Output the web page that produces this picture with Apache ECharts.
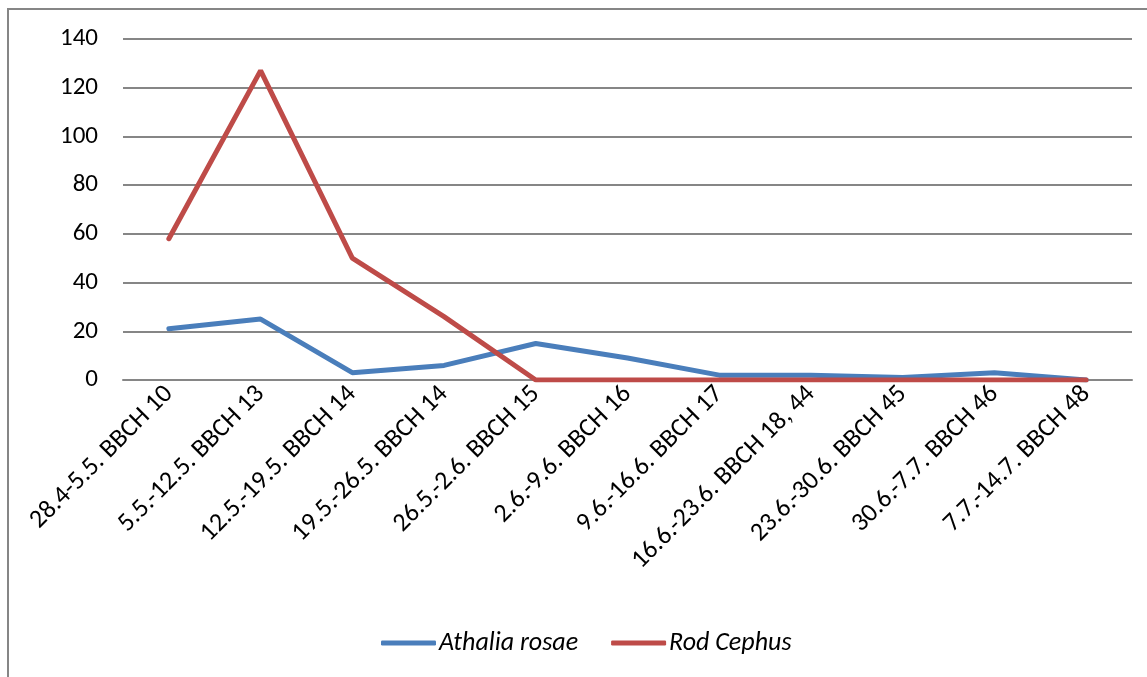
<!DOCTYPE html>
<html><head><meta charset="utf-8">
<script src="https://cdn.jsdelivr.net/npm/echarts@6/dist/echarts.min.js"></script>
<style>html,body{margin:0;padding:0;background:#fff}#c{width:1147px;height:677px}</style>
</head><body><div id="c"></div>
<script>
const categories = ['28.4-5.5. BBCH 10','5.5.-12.5. BBCH 13','12.5.-19.5. BBCH 14','19.5.-26.5. BBCH 14','26.5.-2.6. BBCH 15','2.6.-9.6. BBCH 16','9.6.-16.6. BBCH 17','16.6.-23.6. BBCH 18, 44','23.6.-30.6. BBCH 45','30.6.-7.7. BBCH 46','7.7.-14.7. BBCH 48'];
const athalia = [21,25,3,6,15,9,2,2,1,3,0];
const cephus = [58,127,50,26,0,0,0,0,0,0,0];
const seriesNames = ['Athalia rosae','Rod Cephus'];
const yTicks = {min:0,max:140,interval:20};
const font = 'Carlito, Calibri, Lato, "Open Sans", sans-serif';
const chart = echarts.init(document.getElementById('c'));
chart.setOption({
  animation:false,
  graphic:[{type:'rect',shape:{x:8,y:9,width:1160,height:700},style:{fill:'none',stroke:'#868686',lineWidth:2},z:-1}],
  grid:{left:123,right:15,top:39,bottom:297},
  legend:{bottom:16,left:376,itemWidth:55,itemHeight:5,itemGap:33,
    textStyle:{fontFamily:font,fontSize:26,fontStyle:'italic',color:'#000',padding:[0,0,0,-2]},
    data:seriesNames.map(n=>({name:n,icon:'roundRect'}))},
  xAxis:{type:'category',data:categories,boundaryGap:true,
    axisLine:{lineStyle:{color:'#868686',width:2}},axisTick:{show:false},
    axisLabel:{rotate:45,interval:0,fontFamily:font,fontSize:26,color:'#000',margin:10}},
  yAxis:{type:'value',min:yTicks.min,max:yTicks.max,interval:yTicks.interval,
    axisLine:{show:false},axisTick:{show:false},
    splitLine:{lineStyle:{color:'#868686',width:2}},
    axisLabel:{fontFamily:font,fontSize:25,color:'#000',margin:25}},
  series:[
    {name:seriesNames[0],type:'line',data:athalia,symbol:'none',lineStyle:{color:'#4a7ebb',width:5,cap:'round'},itemStyle:{color:'#4a7ebb'}},
    {name:seriesNames[1],type:'line',data:cephus,symbol:'none',lineStyle:{color:'#be4b48',width:5,cap:'round'},itemStyle:{color:'#be4b48'}}
  ]
});
</script></body></html>
